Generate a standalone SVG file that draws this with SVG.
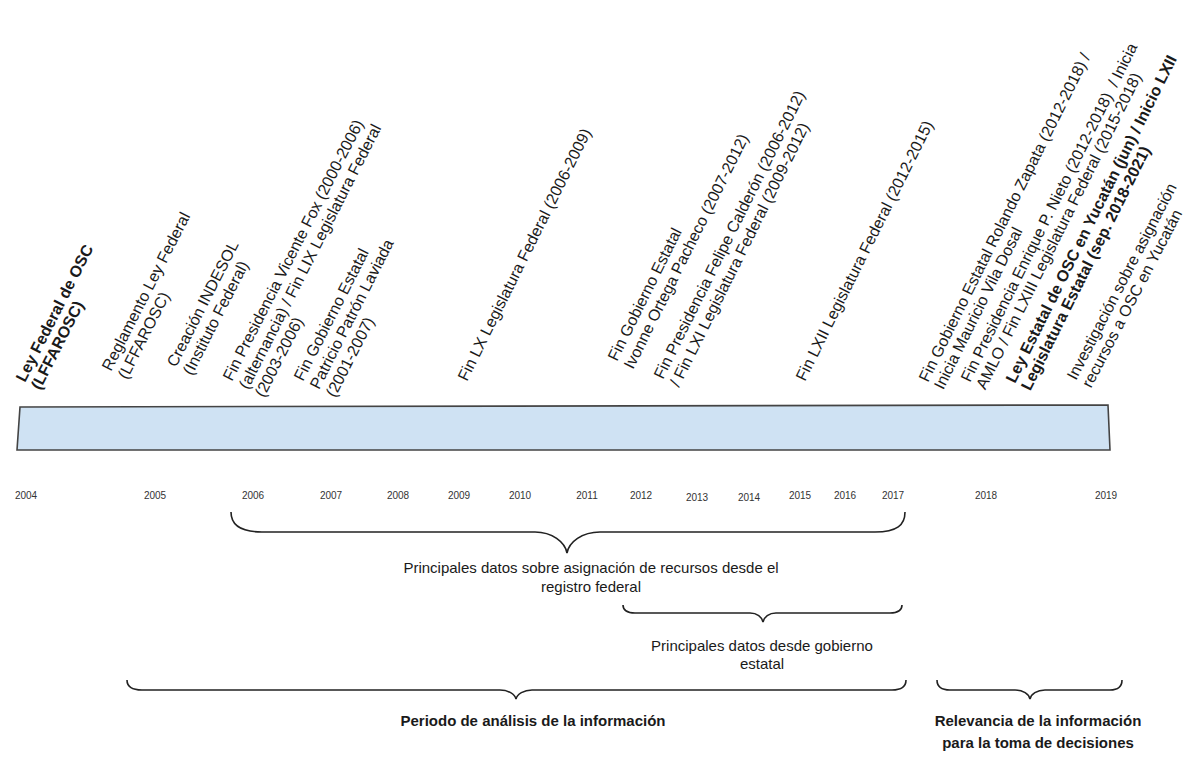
<svg xmlns="http://www.w3.org/2000/svg" width="1184" height="768" viewBox="0 0 1184 768">
<style>
.lbl{font-family:"Liberation Sans",Arial,sans-serif;font-size:16px;fill:#1a1a1a;white-space:pre}
.b{font-weight:bold}
.yr{font-family:"Liberation Sans",Arial,sans-serif;font-size:10px;fill:#333;text-anchor:middle}
.cap{font-family:"Liberation Sans",Arial,sans-serif;font-size:15px;fill:#1a1a1a;text-anchor:middle}
.brace{fill:none;stroke:#222;stroke-width:1.6}
</style>
<rect width="1184" height="768" fill="#ffffff"/>
<g id="timeline-bar">
<path d="M20,407 L1108,405 L1110,450 L17,450 Z" fill="#cfe2f3" stroke="#444" stroke-width="1.6"/>
</g>
<g id="years">
<text class="yr" x="26" y="499">2004</text>
<text class="yr" x="155" y="499">2005</text>
<text class="yr" x="253" y="499">2006</text>
<text class="yr" x="331" y="499">2007</text>
<text class="yr" x="398" y="499">2008</text>
<text class="yr" x="459" y="499">2009</text>
<text class="yr" x="520" y="499">2010</text>
<text class="yr" x="587" y="499">2011</text>
<text class="yr" x="641" y="499">2012</text>
<text class="yr" x="697" y="501">2013</text>
<text class="yr" x="749" y="501">2014</text>
<text class="yr" x="800" y="499">2015</text>
<text class="yr" x="845" y="499">2016</text>
<text class="yr" x="893" y="499">2017</text>
<text class="yr" x="986" y="499">2018</text>
<text class="yr" x="1106" y="499">2019</text>
</g>
<g id="ev-ley-federal"><text class="lbl b" transform="translate(25,383) rotate(-63)"><tspan x="0" y="0">Ley Federal de OSC</tspan><tspan x="0" y="17">(LFFAROSC)</tspan></text></g>
<g id="ev-reglamento"><text class="lbl" transform="translate(111,372) rotate(-63)"><tspan x="0" y="0">Reglamento Ley Federal</tspan><tspan x="0" y="18">(LFFAROSC)</tspan></text></g>
<g id="ev-indesol"><text class="lbl" transform="translate(176,368) rotate(-63)"><tspan x="0" y="0">Creación INDESOL</tspan><tspan x="0" y="18">(Instituto Federal)</tspan></text></g>
<g id="ev-fox"><text class="lbl" transform="translate(232,382) rotate(-63)"><tspan x="0" y="0">Fin Presidencia Vicente Fox (2000-2006)</tspan><tspan x="0" y="18">(alternancia) / Fin LIX Legislatura Federal</tspan><tspan x="0" y="36">(2003-2006)</tspan></text></g>
<g id="ev-patron"><text class="lbl" transform="translate(303,382) rotate(-63)"><tspan x="0" y="0">Fin Gobierno Estatal</tspan><tspan x="0" y="18">Patricio Patrón Laviada</tspan><tspan x="0" y="36">(2001-2007)</tspan></text></g>
<g id="ev-lx"><text class="lbl" transform="translate(467,382) rotate(-63.5)"><tspan x="0" y="0">Fin LX Legislatura Federal (2006-2009)</tspan></text></g>
<g id="ev-ortega"><text class="lbl" transform="translate(617,362) rotate(-63.5)"><tspan x="0" y="0">Fin Gobierno Estatal</tspan><tspan x="0" y="18">Ivonne Ortega Pacheco (2007-2012)</tspan></text></g>
<g id="ev-calderon"><text class="lbl" transform="translate(663,380) rotate(-63.5)"><tspan x="0" y="0">Fin Presidencia Felipe Calderón (2006-2012)</tspan><tspan x="0" y="18">/ Fin LXI Legislatura Federal (2009-2012)</tspan></text></g>
<g id="ev-lxii"><text class="lbl" transform="translate(805,382) rotate(-63.5)"><tspan x="0" y="0">Fin LXII Legislatura Federal (2012-2015)</tspan></text></g>
<g id="ev-zapata"><text class="lbl" transform="translate(928,383) rotate(-63.5)"><tspan x="0" y="0">Fin Gobierno Estatal Rolando Zapata (2012-2018) /</tspan><tspan x="0" y="17">Inicia Mauricio Vila Dosal</tspan></text></g>
<g id="ev-nieto"><text class="lbl" transform="translate(970,383) rotate(-63.5)"><tspan x="0" y="0">Fin Presidencia Enrique P. Nieto (2012-2018)  / Inicia</tspan><tspan x="0" y="17">AMLO / Fin LXIII Legislatura Federal (2015-2018)</tspan></text></g>
<g id="ev-ley-estatal"><text class="lbl b" transform="translate(1015,384) rotate(-63.5)"><tspan x="0" y="0">Ley Estatal de OSC en Yucatán (jun) / Inicio LXII</tspan><tspan x="0" y="17">Legislatura Estatal (sep. 2018-2021)</tspan></text></g>
<g id="ev-investigacion"><text class="lbl" transform="translate(1076,381) rotate(-62.5)"><tspan x="0" y="0">Investigación sobre asignación</tspan><tspan x="0" y="17">recursos a OSC en Yucatán</tspan></text></g>
<g id="connectors">
<path class="brace" d="M231,512 C231,525 240,532 262,532 L535,532 C552,532 565,542 567,553 C569,542 582,532 600,532 L875,532 C897,532 905,525 905,512"/>
<path class="brace" d="M623,605 C623,611 627,613 635,613 L750,613 C757,613 762,617 763,622 C764,617 769,613 776,613 L890,613 C898,613 902,611 902,605"/>
<path class="brace" d="M127,680 C127,686 132,690 142,690 L500,690 C508,690 515,694 516,699 C517,694 524,690 532,690 L892,690 C902,690 906,686 906,680"/>
<path class="brace" d="M937,680 C937,686 941,690 950,690 L1015,690 C1023,690 1029,694 1030,699 C1031,694 1037,690 1045,690 L1110,690 C1119,690 1122,686 1122,680"/>
</g>
<g id="cap-federal"><text class="cap" x="591" y="573">Principales datos sobre asignación de recursos desde el</text><text class="cap" x="591" y="592">registro federal</text></g>
<g id="cap-estatal"><text class="cap" x="762" y="651">Principales datos desde gobierno</text><text class="cap" x="762" y="669">estatal</text></g>
<g id="cap-periodo"><text class="cap b" x="533" y="726">Periodo de análisis de la información</text></g>
<g id="cap-relevancia"><text class="cap b" x="1038" y="726">Relevancia de la información</text><text class="cap b" x="1038" y="748">para la toma de decisiones</text></g>
</svg>
